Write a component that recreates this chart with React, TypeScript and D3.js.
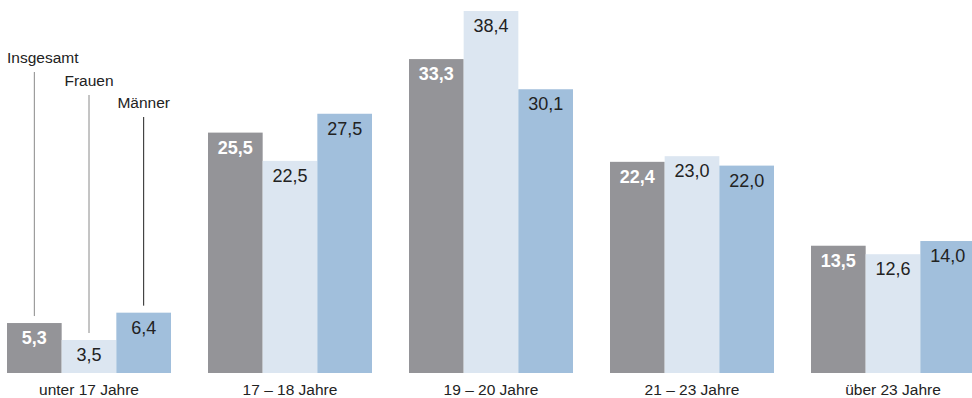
import React from "react";
import * as d3 from "d3";

const categories = ["unter 17 Jahre", "17 – 18 Jahre", "19 – 20 Jahre", "21 – 23 Jahre", "über 23 Jahre"];
const seriesNames = ["Insgesamt", "Frauen", "Männer"];
const insgesamt = [5.3, 25.5, 33.3, 22.4, 13.5];
const frauen = [3.5, 22.5, 38.4, 23.0, 12.6];
const maenner = [6.4, 27.5, 30.1, 22.0, 14.0];

const seriesValues = [insgesamt, frauen, maenner];
const colors = ["#949498", "#dce6f1", "#a1bfdc"];
const valueColors = ["#ffffff", "#222222", "#222222"];
const leaderColors = ["#8a8a8a", "#8a8a8a", "#222222"];
// Legend label baselines, stepped downward from left to right
const legendY = [63, 86, 108];

const W = 972;
const H = 398;
const baseline = 373;
const font = "'Liberation Sans', Arial, sans-serif";

export default function App() {
  const x = d3.scaleBand<string>().domain(categories).range([7, 975]).paddingInner(37 / 201).paddingOuter(0);
  const xs = d3.scaleBand<string>().domain(seriesNames).range([0, x.bandwidth()]).padding(0);
  const y = d3.scaleLinear().domain([0, 38.4]).range([baseline, 11]);
  const fmt = (v: number) => v.toFixed(1).replace(".", ",");

  const first = categories[0];

  return (
    <svg width={W} height={H} style={{ position: "absolute", left: 0, top: 0, background: "#fff" }} fontFamily={font}>
      {categories.map((c, ci) => (
        <g key={c} transform={`translate(${x(c)},0)`}>
          {seriesNames.map((s, si) => {
            const v = seriesValues[si][ci];
            const bx = xs(s)!;
            const top = y(v);
            return (
              <g key={s}>
                <rect x={bx} y={top} width={xs.bandwidth()} height={baseline - top} fill={colors[si]} />
                <text
                  x={bx + xs.bandwidth() / 2}
                  y={top + 21}
                  textAnchor="middle"
                  fontSize={18}
                  fontWeight={si === 0 ? "bold" : "normal"}
                  fill={valueColors[si]}
                >
                  {fmt(v)}
                </text>
              </g>
            );
          })}
          <text x={x.bandwidth() / 2} y={395} textAnchor="middle" fontSize={15.5} fill="#222">
            {c}
          </text>
        </g>
      ))}
      {/* legend labels with leader lines down to the first group */}
      <g transform={`translate(${x(first)},0)`}>
        {seriesNames.map((s, si) => {
          const cx = xs(s)! + xs.bandwidth() / 2;
          const top = y(seriesValues[si][0]);
          const ly = legendY[si];
          return (
            <g key={s}>
              <text
                x={si === 0 ? xs(s)! : cx}
                y={ly}
                textAnchor={si === 0 ? "start" : "middle"}
                fontSize={15.5}
                fill="#222"
              >
                {s}
              </text>
              <line x1={cx} x2={cx} y1={ly + 9} y2={top - 7} stroke={leaderColors[si]} strokeWidth={1} />
            </g>
          );
        })}
      </g>
    </svg>
  );
}
